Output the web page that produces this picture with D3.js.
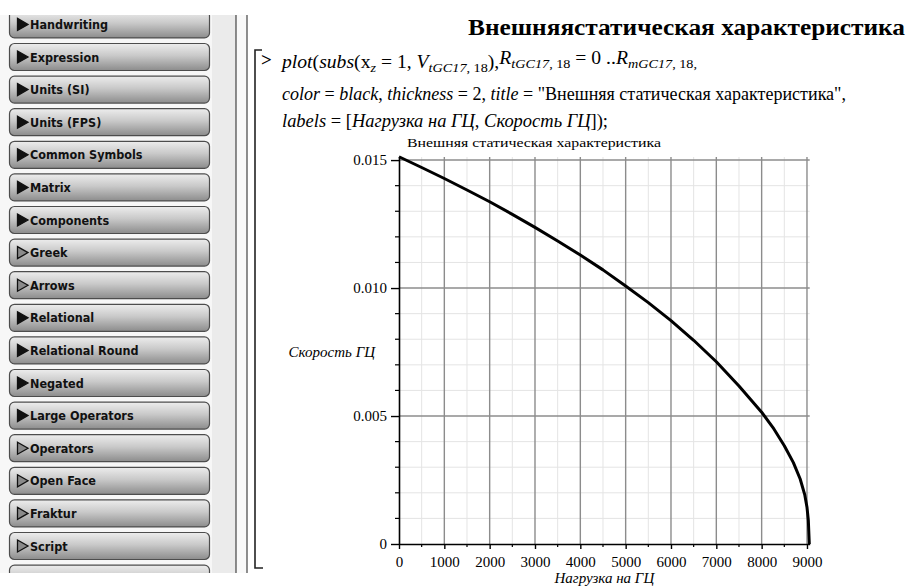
<!DOCTYPE html>
<html>
<head>
<meta charset="utf-8">
<script src="https://cdn.jsdelivr.net/npm/d3@7"></script>
<style>
  body { margin: 0; background: #fff; }
  svg { display: block; }
</style>
</head>
<body>
<div id="wrapper"></div>
<script>
width = 910
height = 586

// data: load on the cylinder vs speed
var load  = [0, 500, 1000, 1500, 2000, 2500, 3000, 3500, 4000, 4500, 5000, 5500, 6000, 6500, 7000, 7500, 8000, 8250, 8500, 8700, 8850, 8950, 9000, 9030, 9051]
var speed = [0.01513, 0.01471, 0.01428, 0.01383, 0.01337, 0.01288, 0.01237, 0.01184, 0.01129, 0.01071, 0.01008, 0.00943, 0.00873, 0.00796, 0.00712, 0.00617, 0.00515, 0.00455, 0.00384, 0.00318, 0.00254, 0.00193, 0.00144, 0.00092, 0]

var xTicks = [0, 1000, 2000, 3000, 4000, 5000, 6000, 7000, 8000, 9000]
var xTickLabels = ["0", "1000", "2000", "3000", "4000", "5000", "6000", "7000", "8000", "9000"]
var xMinor = [500, 1500, 2500, 3500, 4500, 5500, 6500, 7500, 8500]
var yTicks = [0, 0.005, 0.010, 0.015]
var yTickLabels = ["0", "0.005", "0.010", "0.015"]
var yMinor = [0.001, 0.002, 0.003, 0.004, 0.006, 0.007, 0.008, 0.009, 0.011, 0.012, 0.013, 0.014]

var paletteNames = ["Handwriting", "Expression", "Units (SI)", "Units (FPS)", "Common Symbols", "Matrix", "Components",
    "Greek", "Arrows", "Relational", "Relational Round", "Negated", "Large Operators", "Operators", "Open Face", "Fraktur", "Script", ""]
var paletteFilled = [1, 1, 1, 1, 1, 1, 1, 0, 0, 1, 1, 1, 1, 0, 0, 0, 0, 0]

var pageTitle = "Внешняястатическая характеристика"
var plotTitle = "Внешняя статическая характеристика"
var xLabel = "Нагрузка на ГЦ"
var yLabel = "Скорость ГЦ"

const serif = "'Liberation Serif', 'DejaVu Serif', serif"
const svg = d3.select("#wrapper").append("svg")
    .attr("width", width)
    .attr("height", height)
    .style("font-family", serif)

svg.append("rect").attr("width", width).attr("height", height).attr("fill", "#fff")

// ---- palette sidebar ----
const defs = svg.append("defs")
const grad = defs.append("linearGradient").attr("id", "btn").attr("x1", 0).attr("y1", 0).attr("x2", 0).attr("y2", 1)
grad.append("stop").attr("offset", "0%").attr("stop-color", "#ededed")
grad.append("stop").attr("offset", "45%").attr("stop-color", "#c9c9c9")
grad.append("stop").attr("offset", "100%").attr("stop-color", "#8c8c8c")
defs.append("clipPath").attr("id", "side").append("rect")
    .attr("x", 0).attr("y", 15).attr("width", 260).attr("height", 558)

const side = svg.append("g").attr("clip-path", "url(#side)")
side.append("rect").attr("x", 0).attr("y", 15).attr("width", 215).attr("height", 558).attr("fill", "#f7f7f7")
side.append("rect").attr("x", 212).attr("y", 15).attr("width", 24).attr("height", 558).attr("fill", "#ebebeb")
side.append("rect").attr("x", 236).attr("y", 15).attr("width", 11).attr("height", 558).attr("fill", "#f9f9f9")
side.append("line").attr("x1", 236).attr("x2", 236).attr("y1", 15).attr("y2", 573).attr("stroke", "#444").attr("stroke-width", 1.2)
side.append("line").attr("x1", 247).attr("x2", 247).attr("y1", 15).attr("y2", 573).attr("stroke", "#444").attr("stroke-width", 1.2)

const btn = side.selectAll("g.btn")
    .data(paletteNames)
    .join("g")
    .attr("class", "btn")
    .attr("transform", (d, i) => `translate(9, ${10.4 + 32.6 * i})`)

btn.append("rect")
    .attr("x", 0.5).attr("y", 0.5)
    .attr("width", 200).attr("height", 27)
    .attr("rx", 5)
    .attr("fill", "url(#btn)")
    .attr("stroke", "#4d4d4d")
    .attr("stroke-width", 1.2)

btn.filter(d => d !== "").append("path")
    .attr("d", "M8.5,8 L19,14 L8.5,20 Z")
    .attr("fill", d => paletteFilled[paletteNames.indexOf(d)] ? "#111" : "#8a8a8a")
    .attr("stroke", "#111")
    .attr("stroke-width", 1.3)

btn.append("text")
    .attr("x", 21)
    .attr("y", 18.5)
    .style("font-family", "'DejaVu Sans Condensed', 'DejaVu Sans', sans-serif")
    .style("font-size", "12.5px")
    .style("font-weight", "bold")
    .attr("fill", "#111")
    .text(d => d)

// ---- worksheet ----
svg.append("text")
    .attr("x", 468).attr("y", 35)
    .attr("textLength", 437).attr("lengthAdjust", "spacingAndGlyphs")
    .style("font-size", "24px").style("font-weight", "bold")
    .text(pageTitle)

svg.append("path")
    .attr("d", "M262,50 H255 V568 H263")
    .attr("fill", "none").attr("stroke", "#222").attr("stroke-width", 1.6)

svg.append("text").attr("x", 261).attr("y", 66)
    .style("font-size", "19px").style("font-weight", "bold").text(">")

function codeLine(y, len, parts) {
    const t = svg.append("text")
        .attr("x", 282).attr("y", y)
        .attr("textLength", len).attr("lengthAdjust", "spacingAndGlyphs")
        .style("font-size", "18px")
    parts.forEach(p => {
        t.append("tspan")
            .attr("dy", p[2] || 0)
            .style("font-style", p[1].includes("i") ? "italic" : "normal")
            .style("font-size", p[1].includes("s") ? "13px" : "18px")
            .text(p[0])
    })
}

codeLine(68, 415, [
    ["plot", "i"], ["(", "n"], ["subs", "i"], ["(", "n"], ["x", "n"], ["z", "is", 4], [" = 1, ", "n", -4],
    ["V", "i"], ["tGC17", "is", 4], [", 18", "s"], [")", "n", -4], [",", "n"],
    ["R", "i", -4], ["tGC17", "is", 4], [", 18", "s"], [" = 0 ..", "n", -4],
    ["R", "i"], ["mGC17", "is", 4], [", 18,", "s"]
])
codeLine(100, 564, [
    ["color", "i"], [" = ", "n"], ["black", "i"], [", ", "n"], ["thickness", "i"], [" = 2, ", "n"],
    ["title", "i"], [" = ", "n"], ["\"" + plotTitle + "\",", "n"]
])
codeLine(127, 326, [
    ["labels", "i"], [" = [", "n"], ["Нагрузка на ГЦ", "i"], [", ", "n"], ["Скорость ГЦ", "i"], ["]);", "n"]
])

// ---- plot ----
var x = d3.scaleLinear().domain([0, 9060]).range([399, 809.7])
var y = d3.scaleLinear().domain([0, 0.01512]).range([544, 157])

const grid = svg.append("g")
grid.selectAll("line.vmin").data(xMinor).join("line")
    .attr("x1", d => x(d)).attr("x2", d => x(d)).attr("y1", y(0)).attr("y2", y.range()[1])
    .attr("stroke", "#e4e4e4").attr("stroke-width", 1)
grid.selectAll("line.hmin").data(yMinor).join("line")
    .attr("y1", d => y(d)).attr("y2", d => y(d)).attr("x1", x(0)).attr("x2", x.range()[1])
    .attr("stroke", "#e4e4e4").attr("stroke-width", 1)
grid.selectAll("line.vmaj").data(xTicks.slice(1)).join("line")
    .attr("x1", d => x(d)).attr("x2", d => x(d)).attr("y1", y(0)).attr("y2", y.range()[1])
    .attr("stroke", "#8c8c8c").attr("stroke-width", 1.4)
grid.selectAll("line.hmaj").data(yTicks.slice(1)).join("line")
    .attr("y1", d => y(d)).attr("y2", d => y(d)).attr("x1", x(0)).attr("x2", x.range()[1])
    .attr("stroke", "#8c8c8c").attr("stroke-width", 1.4)

var xAxis = g => g
    .attr("transform", `translate(0, ${y(0)})`)
    .call(d3.axisBottom(x).tickValues(xTicks).tickFormat((d, i) => xTickLabels[i]).tickSize(5).tickSizeOuter(0).tickPadding(7))
    .attr("font-family", serif)
    .call(g => g.select(".domain").attr("stroke", "#000").attr("stroke-width", 1.6))
    .call(g => g.selectAll(".tick line").attr("stroke", "#000").attr("stroke-width", 1.4))
    .call(g => g.selectAll("text").style("font-family", serif).style("font-size", "15px").attr("fill", "#000"))
    .call(g => g.selectAll(".minor").data(xMinor).join("line")
        .attr("class", "minor")
        .attr("x1", d => x(d)).attr("x2", d => x(d)).attr("y1", 0).attr("y2", 3)
        .attr("stroke", "#000").attr("stroke-width", 1.2))

var yAxis = g => g
    .attr("transform", `translate(${x(0)}, 0)`)
    .call(d3.axisLeft(y).tickValues(yTicks).tickFormat((d, i) => yTickLabels[i]).tickSize(8).tickSizeOuter(0).tickPadding(4))
    .attr("font-family", serif)
    .call(g => g.select(".domain").attr("stroke", "#000").attr("stroke-width", 1.6))
    .call(g => g.selectAll(".tick line").attr("stroke", "#000").attr("stroke-width", 1.4))
    .call(g => g.selectAll("text").style("font-family", serif).style("font-size", "15px").attr("fill", "#000"))
    .call(g => g.selectAll(".minor").data(yMinor).join("line")
        .attr("class", "minor")
        .attr("y1", d => y(d)).attr("y2", d => y(d)).attr("x1", 0).attr("x2", -4)
        .attr("stroke", "#000").attr("stroke-width", 1.2))

svg.append("g").call(xAxis)
svg.append("g").call(yAxis)

const points = load.map((d, i) => [d, speed[i]])
svg.append("path")
    .datum(points)
    .attr("fill", "none")
    .attr("stroke", "#000")
    .attr("stroke-width", 3)
    .attr("stroke-linejoin", "round")
    .attr("d", d3.line().x(d => x(d[0])).y(d => y(d[1])))

svg.append("text")
    .attr("x", 407).attr("y", 147)
    .attr("textLength", 254).attr("lengthAdjust", "spacingAndGlyphs")
    .style("font-size", "13.5px")
    .text(plotTitle)

svg.append("text")
    .attr("x", 375).attr("y", y(0.0075) + 5)
    .attr("text-anchor", "end")
    .style("font-size", "15px").style("font-style", "italic")
    .text(yLabel)

svg.append("text")
    .attr("x", x(4530)).attr("y", 583)
    .attr("text-anchor", "middle")
    .style("font-size", "15px").style("font-style", "italic")
    .text(xLabel)
</script>
</body>
</html>
